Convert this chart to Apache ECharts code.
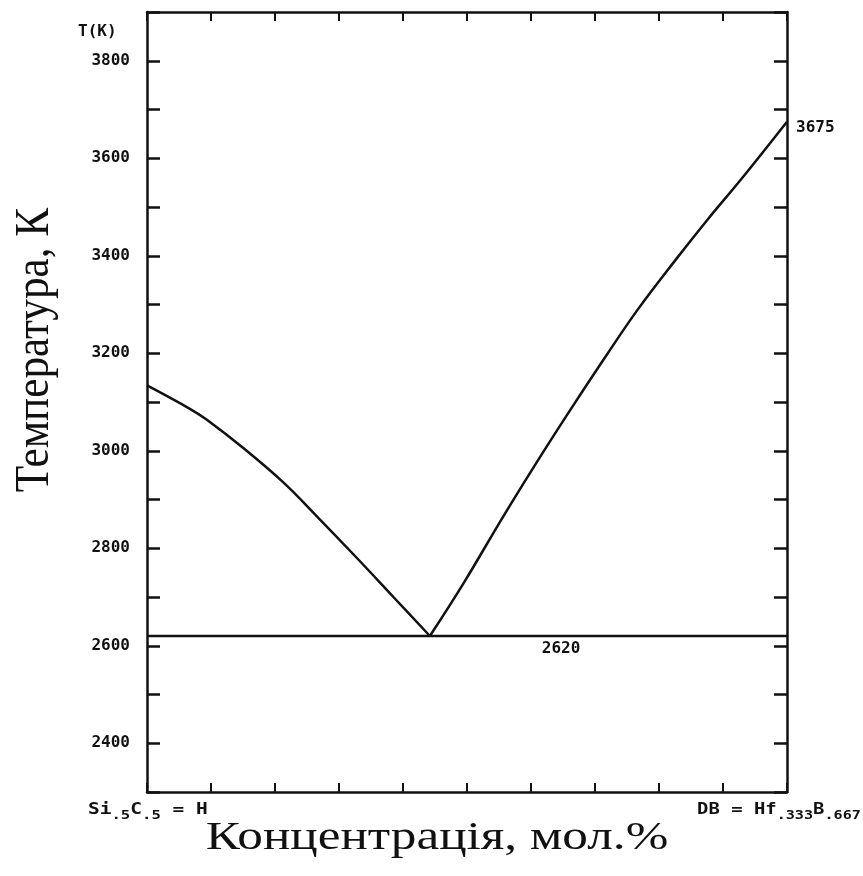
<!DOCTYPE html>
<html>
<head>
<meta charset="utf-8">
<script src="https://cdn.jsdelivr.net/npm/echarts@6/dist/echarts.min.js"></script>
<style>
html,body{margin:0;padding:0;background:#fff;}
#c{width:863px;height:876px;}
</style>
</head>
<body>
<div id="c"></div>
<script>
// Liquidus, left branch (mole fraction of DB, temperature K)
const leftX = [0, 0.067, 0.093, 0.150, 0.213, 0.265, 0.328, 0.385, 0.442];
const leftT = [3134, 3086, 3064, 3006, 2935, 2866, 2780, 2700, 2620];
// Liquidus, right branch
const rightX = [0.442, 0.4945, 0.557, 0.615, 0.662, 0.720, 0.767, 0.825, 0.877, 0.929, 1.0];
const rightT = [2620, 2728, 2866, 2989, 3085, 3200, 3290, 3390, 3476, 3558, 3675];
// Eutectic line
const eutX = [0, 0.647, 1];
const eutT = [2620, 2620, 2620];
const eutLabel = '2620';
const meltLabel = '3675';
// Axis settings
const yMin = 2300, yMax = 3900, yStep = 100, yLabelStep = 200;
const xMin = 0, xMax = 1, xStep = 0.1;

const INK = '#111';
const MONO = '"DejaVu Sans Mono", "Liberation Mono", monospace';
const SERIF = '"Liberation Serif", "DejaVu Serif", serif';

const leftData = leftX.map((x, i) => [x, leftT[i]]);
const rightData = rightX.map((x, i) => {
  const item = { value: [x, rightT[i]] };
  if (i === rightX.length - 1) {
    item.label = { show: true, position: 'right', distance: 9, offset: [0, 6],
      formatter: meltLabel, fontFamily: MONO, fontWeight: 'bold', fontSize: 16, color: INK };
  }
  return item;
});
const eutData = eutX.map((x, i) => {
  const item = { value: [x, eutT[i]] };
  if (i === 1) {
    item.label = { show: true, position: 'bottom', distance: 5,
      formatter: eutLabel, fontFamily: MONO, fontWeight: 'bold', fontSize: 16, color: INK };
  }
  return item;
});

const chart = echarts.init(document.getElementById('c'));
const axisLine = { show: true, onZero: false, lineStyle: { color: INK, width: 2.5 } };
chart.setOption({
  animation: false,
  backgroundColor: '#fff',
  grid: { left: 147, right: 76, top: 12, bottom: 84 },
  xAxis: [
    { type: 'value', position: 'bottom', min: xMin, max: xMax, interval: xStep,
      axisLine, splitLine: { show: false },
      axisTick: { inside: true, length: 9, lineStyle: { color: INK, width: 2 } },
      axisLabel: { show: false } },
    { type: 'value', position: 'top', min: xMin, max: xMax, interval: xStep,
      axisLine, splitLine: { show: false },
      axisTick: { inside: true, length: 9, lineStyle: { color: INK, width: 2 } },
      axisLabel: { show: false } }
  ],
  yAxis: [
    { type: 'value', position: 'left', min: yMin, max: yMax, interval: yStep,
      axisLine, splitLine: { show: false },
      axisTick: { inside: true, length: 13, lineStyle: { color: INK, width: 2.5 } },
      axisLabel: { margin: 17, fontFamily: MONO, fontWeight: 'bold', fontSize: 16, color: INK,
        formatter: v => (v % yLabelStep === 0 ? String(v) : '') } },
    { type: 'value', position: 'right', min: yMin, max: yMax, interval: yStep,
      axisLine, splitLine: { show: false },
      axisTick: { inside: true, length: 13, lineStyle: { color: INK, width: 2.5 } },
      axisLabel: { show: false } }
  ],
  series: [
    { type: 'line', data: leftData, smooth: 0.4, symbol: 'none',
      lineStyle: { color: INK, width: 2.5 } },
    { type: 'line', data: rightData, smooth: 0.4, symbol: 'circle', symbolSize: 0,
      showSymbol: true, itemStyle: { color: INK },
      lineStyle: { color: INK, width: 2.5 } },
    { type: 'line', data: eutData, symbol: 'circle', symbolSize: 0, showSymbol: true,
      itemStyle: { color: INK },
      lineStyle: { color: INK, width: 2.5 } }
  ],
  graphic: [
    { type: 'text', left: 78, top: 24,
      style: { text: 'T(K)', font: 'bold 16px ' + MONO, fill: INK } },
    { type: 'text', x: 88, y: 810, scaleX: 1.3,
      style: {
        text: '{n|Si}{s|.5}{n|C}{s|.5}{n| = H}',
        rich: {
          n: { font: 'bold 15px ' + MONO, fill: INK },
          s: { font: 'bold 12px ' + MONO, fill: INK, padding: [11, 0, 0, 0] }
        },
        fill: INK, verticalAlign: 'middle'
      } },
    { type: 'text', x: 697, y: 810, scaleX: 1.26,
      style: {
        text: '{n|DB = Hf}{s|.333}{n|B}{s|.667}',
        rich: {
          n: { font: 'bold 15px ' + MONO, fill: INK },
          s: { font: 'bold 12px ' + MONO, fill: INK, padding: [11, 0, 0, 0] }
        },
        fill: INK, verticalAlign: 'middle'
      } },
    { type: 'text', x: 437, y: 838, scaleX: 1.28,
      style: { text: 'Концентрація, мол.%', font: '40px ' + SERIF, fill: INK,
        align: 'center', verticalAlign: 'middle' } },
    { type: 'text', x: 35, y: 350, rotation: Math.PI / 2, scaleX: 1.08, scaleY: 1.2,
      style: { text: 'Температура, К', font: '40px ' + SERIF, fill: INK,
        align: 'center', verticalAlign: 'middle' } }
  ]
});
</script>
</body>
</html>
